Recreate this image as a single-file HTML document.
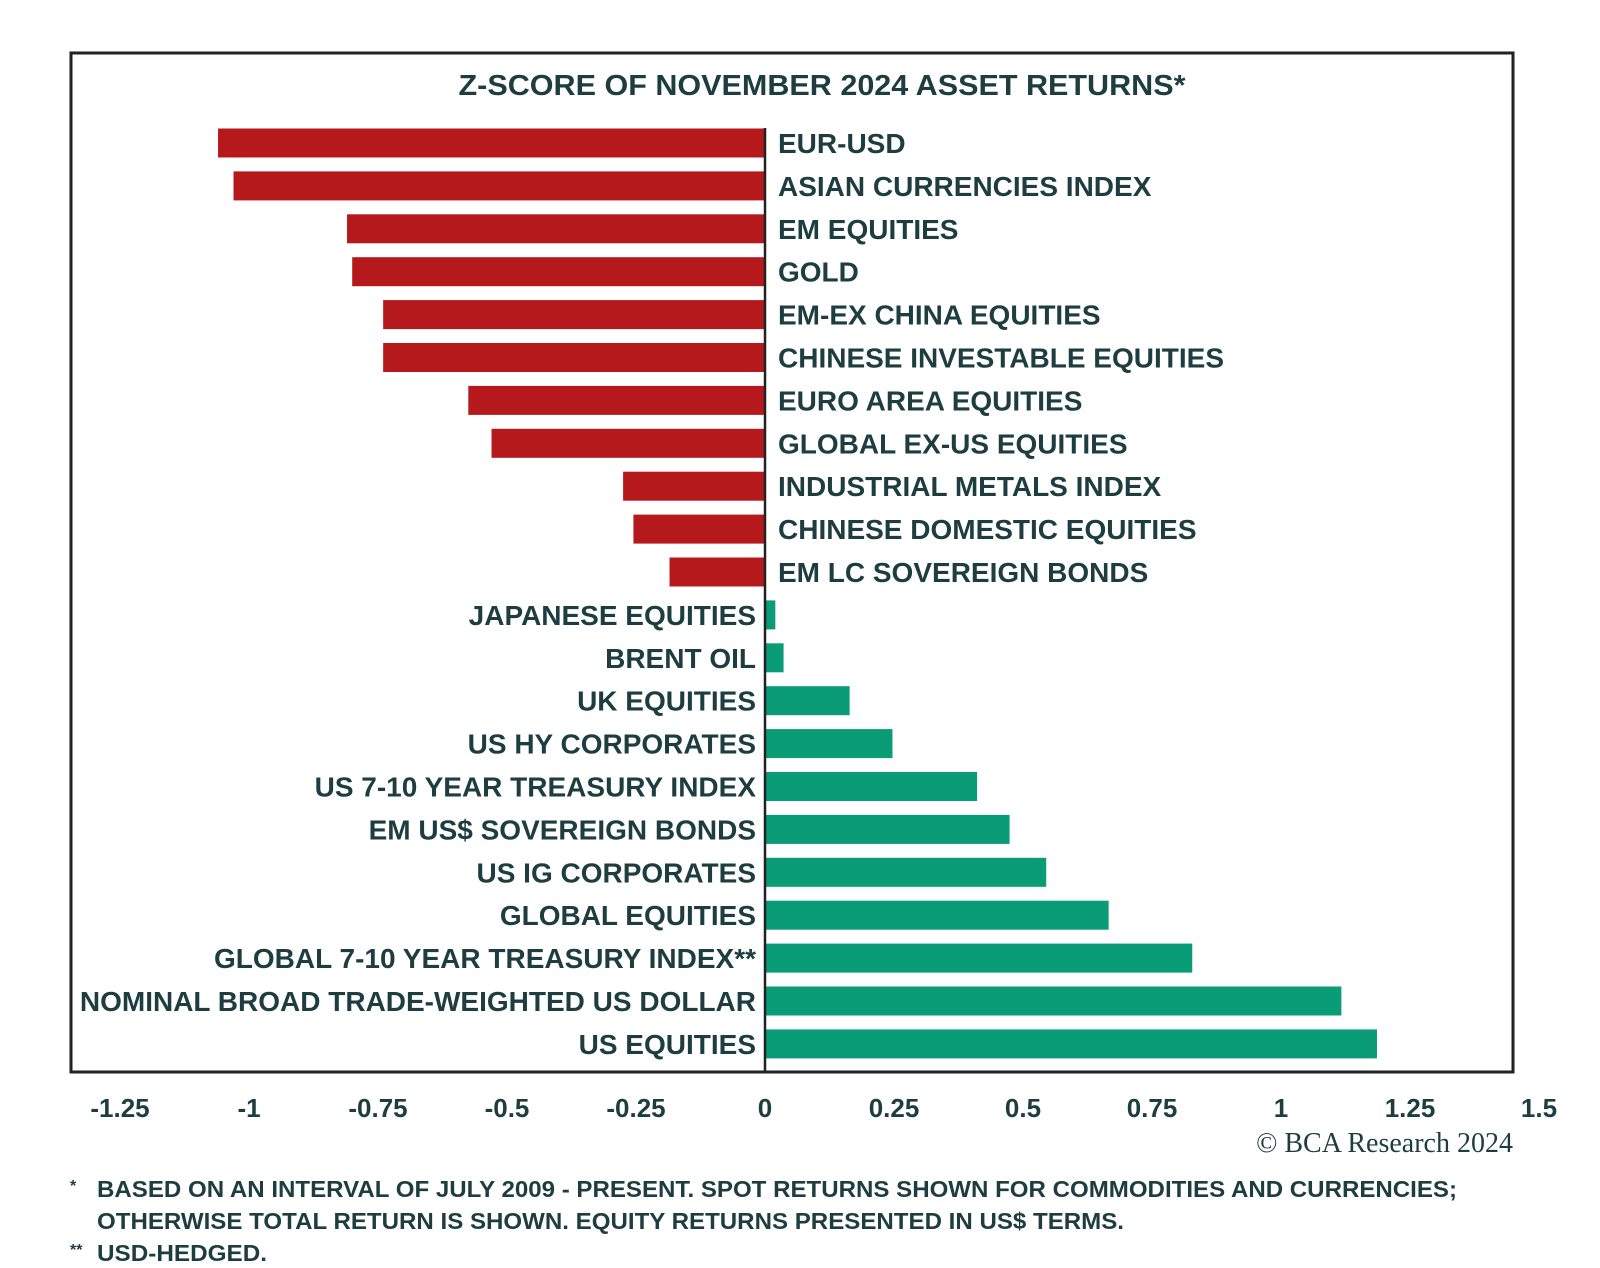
<!DOCTYPE html>
<html><head><meta charset="utf-8"><style>
html,body{margin:0;padding:0;background:#fff;}
svg{display:block;font-family:"Liberation Sans",sans-serif;}
</style></head><body>
<svg id="chart" width="1600" height="1268" viewBox="0 0 1600 1268"></svg>
<script>
const categories = ["EUR-USD","ASIAN CURRENCIES INDEX","EM EQUITIES","GOLD","EM-EX CHINA EQUITIES","CHINESE INVESTABLE EQUITIES","EURO AREA EQUITIES","GLOBAL EX-US EQUITIES","INDUSTRIAL METALS INDEX","CHINESE DOMESTIC EQUITIES","EM LC SOVEREIGN BONDS","JAPANESE EQUITIES","BRENT OIL","UK EQUITIES","US HY CORPORATES","US 7-10 YEAR TREASURY INDEX","EM US$ SOVEREIGN BONDS","US IG CORPORATES","GLOBAL EQUITIES","GLOBAL 7-10 YEAR TREASURY INDEX**","NOMINAL BROAD TRADE-WEIGHTED US DOLLAR","US EQUITIES"];
const zscores = [-1.06,-1.03,-0.81,-0.80,-0.74,-0.74,-0.575,-0.53,-0.275,-0.255,-0.185,0.02,0.036,0.164,0.247,0.411,0.474,0.545,0.666,0.828,1.117,1.186];
const tickValues = [-1.25,-1,-0.75,-0.5,-0.25,0,0.25,0.5,0.75,1,1.25,1.5];
const tickLabels = ["-1.25","-1","-0.75","-0.5","-0.25","0","0.25","0.5","0.75","1","1.25","1.5"];

const svg = document.getElementById('chart');
const NS = 'http://www.w3.org/2000/svg';
const zeroX = 765, unit = 516;
const x = v => zeroX + v * unit;
const rowTop = 143, rowStep = 42.9;
const y = i => rowTop + i * rowStep;
const ink = '#1e3d40';
function mk(tag, attrs, text){
  const e = document.createElementNS(NS, tag);
  for (const k in attrs) e.setAttribute(k, attrs[k]);
  if (text !== undefined) e.textContent = text;
  svg.appendChild(e);
  return e;
}
let frame = mk('rect',{x:71,y:53,width:1442,height:1019,fill:'none',stroke:'#222',"stroke-width":3});


let title = mk('text',{x:822,y:95,"text-anchor":"middle","font-size":29,"font-weight":"bold",fill:ink,textLength:727,lengthAdjust:"spacingAndGlyphs"},'Z-SCORE OF NOVEMBER 2024 ASSET RETURNS*');



categories.forEach((c,i)=>{
  const v = zscores[i];
  const cy = y(i);
  const bar = mk('rect',{x:Math.min(x(v),x(0)),y:cy-14.5,width:Math.abs(x(v)-x(0)),height:29,fill: v<0?'#b5191c':'#0a9b77'});
  
  
  const lbl = mk('text',{x: v<0 ? x(0)+13 : x(0)-9, y: cy+10, "text-anchor": v<0?'start':'end', "font-size":28, "font-weight":"bold", fill:ink}, c);
  
  
});
let axis = mk('line',{x1:x(0),x2:x(0),y1:128,y2:1072,stroke:'#222',"stroke-width":2.5});



tickValues.forEach((t,i)=>{
  const tl = mk('text',{x:x(t),y:1117,"text-anchor":"middle","font-size":26,"font-weight":"bold",fill:ink},tickLabels[i]);
  
  
});
let cr = mk('text',{x:1513,y:1152,"text-anchor":"end","font-size":28,fill:ink,"font-family":"Liberation Serif, serif"},'© BCA Research 2024');


const notes = [
 ['*',97,1197,'BASED ON AN INTERVAL OF JULY 2009 - PRESENT. SPOT RETURNS SHOWN FOR COMMODITIES AND CURRENCIES;',1360],
 ['',97,1229,'OTHERWISE TOTAL RETURN IS SHOWN. EQUITY RETURNS PRESENTED IN US$ TERMS.',1027],
 ['**',97,1261,'USD-HEDGED.',170]
];
notes.forEach(n=>{
  if(n[0]){
    const m = mk('text',{x:70,y:n[2]-6,"font-size":16,"font-weight":"bold",fill:ink},n[0]);
    
    
  }
  const t = mk('text',{x:n[1],y:n[2],"font-size":23,"font-weight":"bold",fill:ink,textLength:n[4],lengthAdjust:"spacingAndGlyphs"},n[3]);
  
  
});
</script>
</body></html>
